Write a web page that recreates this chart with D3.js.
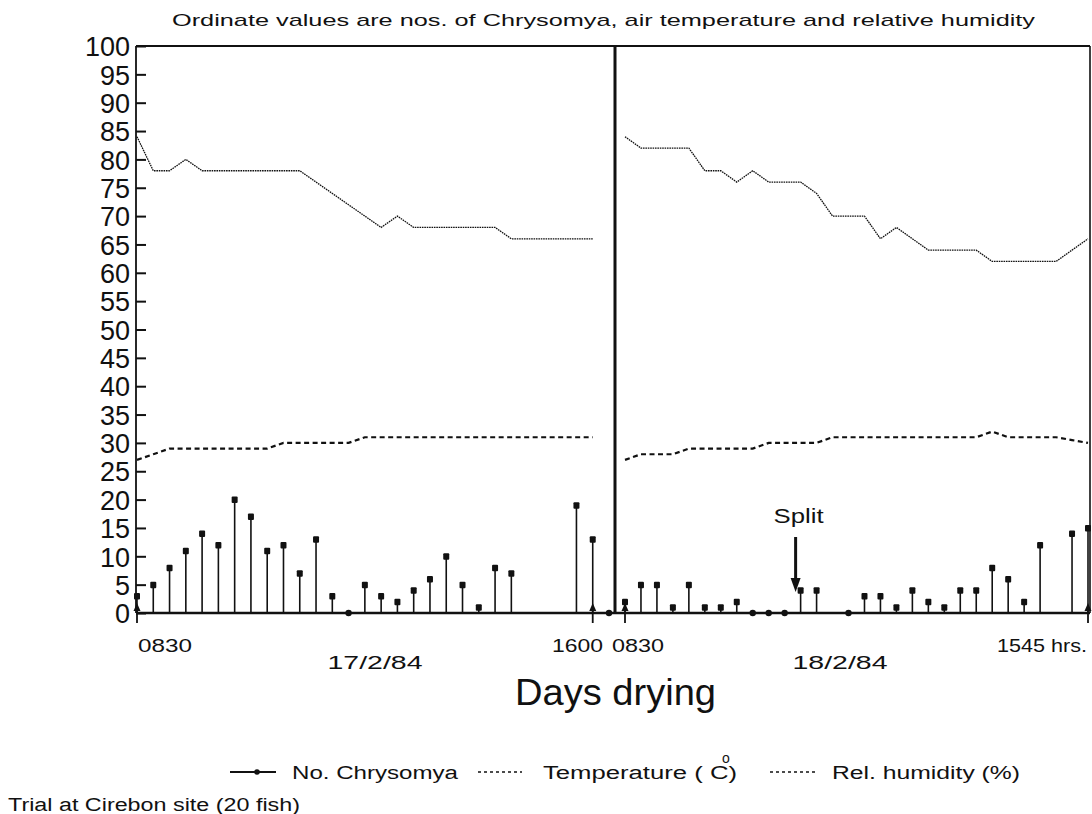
<!DOCTYPE html>
<html><head><meta charset="utf-8">
<script src="https://cdn.jsdelivr.net/npm/d3@7/dist/d3.min.js"></script>
<style>body{margin:0;background:#fff}svg{display:block}text{font-family:"Liberation Sans",Arial,sans-serif;fill:#111}</style>
</head><body><svg id="c" width="1092" height="814"></svg>
<script>
// ---- data ----
const yTicks = [0,5,10,15,20,25,30,35,40,45,50,55,60,65,70,75,80,85,90,95,100];
const day1Slots = d3.range(30); // 15-minute readings, 0830 -> 1600
const day2Slots = d3.range(30); // 15-minute readings, 0830 -> 1545
const chrysomyaDay1 = [3,5,8,11,14,12,20,17,11,12,7,13,3,0,5,3,2,4,6,10,5,1,8,7,null,null,null,19,13,0];
const chrysomyaDay2 = [2,5,5,1,5,1,1,2,0,0,0,4,4,null,0,3,3,1,4,2,1,4,4,8,6,2,12,null,14,15];
const temperatureDay1 = [27,28,29,29,29,29,29,29,29,30,30,30,30,30,31,31,31,31,31,31,31,31,31,31,31,31,31,31,31];
const temperatureDay2 = [27,28,28,28,29,29,29,29,29,30,30,30,30,31,31,31,31,31,31,31,31,31,31,32,31,31,31,31,30.5,30];
const humidityDay1 = [84,78,78,80,78,78,78,78,78,78,78,76,74,72,70,68,70,68,68,68,68,68,68,66,66,66,66,66,66];
const humidityDay2 = [84,82,82,82,82,78,78,76,78,76,76,76,74,70,70,70,66,68,66,64,64,64,64,62,62,62,62,62,64,66];
const dayLabels = ["17/2/84","18/2/84"];
const timeLabelsDay1 = ["0830","1600"];
const timeLabelsDay2 = ["0830","1545 hrs."];
const markedSlotsDay1 = [0,28];
const markedSlotsDay2 = [0,29];
const splitSlotDay2 = 11;

// ---- layout ----
const svg = d3.select("#c");
const L=136, R=1090, T=46, B=613, MID=615;
const y = d3.scaleLinear().domain([0,100]).range([B,T]);
const x1 = d3.scaleLinear().domain([0,29]).range([137,609]);
const x2 = d3.scaleLinear().domain([0,29]).range([625,1088]);
const ink = "#111";

function txt(s, x, yy, size, opts={}) {
  const t = svg.append("text").attr("x",x).attr("y",yy).attr("font-size",size)
    .attr("text-anchor",opts.anchor||"start").attr("dominant-baseline","central").text(s);
  if (opts.len) t.attr("textLength",opts.len).attr("lengthAdjust","spacingAndGlyphs");
  return t;
}

// title
txt("Ordinate values are nos. of Chrysomya, air temperature and relative humidity",172,20,17,{len:863});

// y axis
const yAxis = svg.append("g").attr("transform",`translate(${L},0)`)
  .call(d3.axisLeft(y).tickValues(yTicks).tickSizeInner(-10).tickSizeOuter(0).tickPadding(6));
yAxis.select(".domain").remove();
yAxis.selectAll(".tick line").attr("stroke",ink).attr("stroke-width",2);
yAxis.selectAll(".tick text").attr("font-size",27).attr("fill",ink)
  .attr("font-family","'Liberation Sans',Arial,sans-serif").attr("dy","0.36em");

// frame
const fr = svg.append("g").attr("stroke",ink).attr("fill","none");
fr.append("line").attr("x1",L).attr("x2",R).attr("y1",T).attr("y2",T).attr("stroke-width",2);
fr.append("line").attr("x1",L).attr("x2",L).attr("y1",T).attr("y2",B).attr("stroke-width",1.8);
fr.append("line").attr("x1",R).attr("x2",R).attr("y1",T).attr("y2",B).attr("stroke-width",1.6);
fr.append("line").attr("x1",MID).attr("x2",MID).attr("y1",T).attr("y2",B).attr("stroke-width",3);

// lines
function drawLine(data, xs, dash, w) {
  svg.append("path").datum(data).attr("fill","none").attr("stroke",ink)
    .attr("stroke-width",w).attr("stroke-dasharray",dash)
    .attr("d", d3.line().x((d,i)=>xs(i)).y(d=>y(d)));
}
drawLine(humidityDay1, x1, "1.6,0.8", 1.3);
drawLine(humidityDay2, x2, "1.6,0.8", 1.3);
drawLine(temperatureDay1, x1, "5,3.5", 2.2);
drawLine(temperatureDay2, x2, "5,3.5", 2.2);

// stems
function drawStems(data, xs) {
  const g = svg.append("g");
  data.forEach((v,i)=>{
    if (v===null) return;
    if (v>0) {
      g.append("line").attr("x1",xs(i)).attr("x2",xs(i)).attr("y1",y(0)).attr("y2",y(v))
        .attr("stroke",ink).attr("stroke-width",1.6);
      g.append("rect").attr("x",xs(i)-3).attr("y",y(v)-3).attr("width",6).attr("height",6.5)
        .attr("rx",1).attr("fill",ink);
    } else {
      g.append("circle").attr("cx",xs(i)).attr("cy",y(0)).attr("r",3.2).attr("fill",ink);
    }
  });
}
drawStems(chrysomyaDay1, x1);
drawStems(chrysomyaDay2, x2);

// bottom axis
svg.append("line").attr("x1",L).attr("x2",R).attr("y1",B).attr("y2",B).attr("stroke",ink).attr("stroke-width",2.6);

// start/end markers
function marker(xp){
  svg.append("line").attr("x1",xp).attr("x2",xp).attr("y1",B-6).attr("y2",B+10).attr("stroke",ink).attr("stroke-width",1.8);
  svg.append("path").attr("d",`M${xp},${B-10}L${xp-3.5},${B-2}L${xp+3.5},${B-2}Z`).attr("fill",ink);
}
markedSlotsDay1.forEach(i=>marker(x1(i)));
markedSlotsDay2.forEach(i=>marker(x2(i)));

// split annotation
const sx = x2(splitSlotDay2)-5;
txt("Split", sx+3, 516, 20, {anchor:"middle", len:50});
svg.append("line").attr("x1",sx).attr("x2",sx).attr("y1",537).attr("y2",580).attr("stroke",ink).attr("stroke-width",3);
svg.append("path").attr("d",`M${sx},${592}L${sx-5},${578}L${sx+5},${578}Z`).attr("fill",ink);

// x labels
txt(timeLabelsDay1[0], x1(0)+1, 645, 19, {len:54});
txt(timeLabelsDay1[1], x1(29)-6, 645, 19, {anchor:"end", len:51});
txt(timeLabelsDay2[0], x2(0)-13, 645, 19, {len:52});
txt(timeLabelsDay2[1], x2(29)-1, 645, 19, {anchor:"end", len:90});
txt(dayLabels[0], (x1(0)+x1(29))/2+2, 662, 19, {anchor:"middle", len:95});
txt(dayLabels[1], 840, 662, 19, {anchor:"middle", len:95});
txt("Days drying", 515, 692, 36, {len:201});

// legend
const ly = 772;
svg.append("line").attr("x1",230).attr("x2",276).attr("y1",ly).attr("y2",ly).attr("stroke",ink).attr("stroke-width",1.8);
svg.append("circle").attr("cx",257).attr("cy",ly).attr("r",2.8).attr("fill",ink);
txt("No. Chrysomya", 292, ly+1, 18, {len:166});
svg.append("line").attr("x1",478).attr("x2",522).attr("y1",ly).attr("y2",ly).attr("stroke",ink).attr("stroke-width",1.4).attr("stroke-dasharray","3,3");
txt("Temperature (  C)", 543, ly+1, 18, {len:194});
txt("o", 722, ly-14, 14);
svg.append("line").attr("x1",770).attr("x2",815).attr("y1",ly).attr("y2",ly).attr("stroke",ink).attr("stroke-width",1.4).attr("stroke-dasharray","3,3");
txt("Rel. humidity (%)", 832, ly+1, 18, {len:188});

// footer
txt("Trial at Cirebon site (20 fish)", 8, 805, 18, {len:292});
</script></body></html>
